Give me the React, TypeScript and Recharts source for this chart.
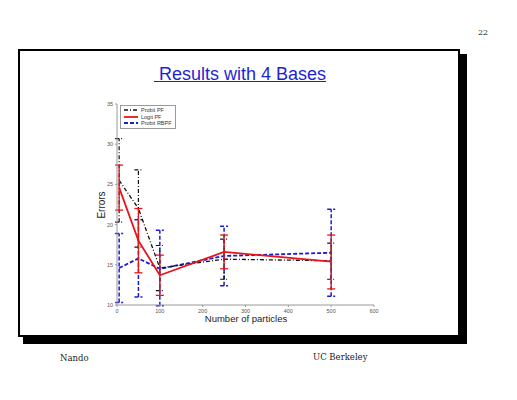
import React from 'react';
import { LineChart, Line, XAxis, YAxis, ErrorBar } from 'recharts';

const particles = [5, 50, 100, 250, 500];

const probitPF = [25.5, 22.0, 14.6, 15.7, 15.5];
const probitLow = [20.3, 17.2, 11.8, 13.2, 13.2];
const probitHigh = [30.7, 26.8, 17.4, 18.2, 17.7];

const logitPF = [24.6, 18.0, 13.7, 16.6, 15.4];
const logitLow = [21.8, 14.0, 11.2, 14.5, 12.0];
const logitHigh = [27.4, 22.0, 16.2, 18.7, 18.7];

const rbpf = [14.6, 15.8, 14.5, 16.1, 16.5];
const rbpfLow = [10.3, 11.0, 9.9, 12.4, 11.1];
const rbpfHigh = [18.9, 20.6, 19.3, 19.8, 21.9];

const xTicks = [0, 100, 200, 300, 400, 500, 600];
const yTicks = [10, 15, 20, 25, 30, 35];

const data = particles.map((x, i) => ({
  x,
  probit: probitPF[i],
  probitErr: [probitPF[i] - probitLow[i], probitHigh[i] - probitPF[i]],
  logit: logitPF[i],
  logitErr: [logitPF[i] - logitLow[i], logitHigh[i] - logitPF[i]],
  rbpf: rbpf[i],
  rbpfErr: [rbpf[i] - rbpfLow[i], rbpfHigh[i] - rbpf[i]],
}));

const legendItems = [
  { name: 'Probit PF', color: '#111', dash: '4 2 1 2', width: 1.3 },
  { name: 'Logit PF', color: '#e3161b', dash: undefined, width: 1.8 },
  { name: 'Probit RBPF', color: '#1c1ccc', dash: '4 2', width: 1.8 },
];

function LegendBox() {
  return (
    <div style={{ position: 'absolute', left: 120, top: 105, border: '1px solid #999', background: '#fff', padding: '1px 3px', width: 48 }}>
      {legendItems.map(it => (
        <div key={it.name} style={{ display: 'flex', alignItems: 'center', height: 6.5 }}>
          <svg width={14} height={6}>
            <line x1={0} y1={3} x2={14} y2={3} stroke={it.color} strokeWidth={it.width} strokeDasharray={it.dash} />
          </svg>
          <span style={{ fontSize: 5.5, color: '#333', marginLeft: 3, fontFamily: 'Liberation Sans, Arial, sans-serif', lineHeight: '6px', whiteSpace: 'nowrap' }}>{it.name}</span>
        </div>
      ))}
    </div>
  );
}

const tickStyle = { fontSize: 5.5, fill: '#555', fontFamily: 'Liberation Sans, Arial, sans-serif' };

export default function App() {
  return (
    <div style={{ position: 'absolute', left: 0, top: 0, width: 517, height: 400, background: '#fff', overflow: 'hidden' }}>
      <div style={{ position: 'absolute', left: 478, top: 28, fontFamily: 'DejaVu Serif, serif', fontSize: 8, color: '#222' }}>22</div>
      {/* slide frame with shadow */}
      <div style={{ position: 'absolute', left: 23, top: 54, width: 444, height: 290, background: '#000' }} />
      <div style={{ position: 'absolute', left: 18, top: 49, width: 438, height: 284, background: '#fff', border: '2px solid #000' }} />
      <div style={{ position: 'absolute', left: 0, width: 480, top: 64, textAlign: 'center', fontFamily: 'Liberation Sans, Arial, sans-serif', fontSize: 18, color: '#1f1fd6', textDecoration: 'underline', textDecorationThickness: 1 }}>
        {'\u00a0Results with 4 Bases'}
      </div>
      <div style={{ position: 'absolute', left: 101, top: 205, transform: 'translate(-50%,-50%) rotate(-90deg)', fontFamily: 'Liberation Sans, Arial, sans-serif', fontSize: 10, color: '#222' }}>Errors</div>
      <div style={{ position: 'absolute', left: 246, top: 318, transform: 'translate(-50%,-50%)', fontFamily: 'Liberation Sans, Arial, sans-serif', fontSize: 9.5, color: '#222', whiteSpace: 'nowrap' }}>Number of particles</div>
      <div style={{ position: 'absolute', left: 60, top: 353, fontFamily: 'DejaVu Serif, serif', fontSize: 8.5, color: '#222' }}>Nando</div>
      <div style={{ position: 'absolute', left: 313, top: 352, fontFamily: 'DejaVu Serif, serif', fontSize: 8.5, color: '#222' }}>UC Berkeley</div>
      <div style={{ position: 'absolute', left: 0, top: 0 }}>
        <LineChart width={517} height={400} data={data} margin={{ top: 104, left: 97, right: 143, bottom: 85 }}>
          <XAxis
            type="number"
            dataKey="x"
            domain={[0, 600]}
            ticks={xTicks}
            tick={tickStyle}
            tickSize={2}
            height={10}
            stroke="#999"
            allowDataOverflow
          />
          <YAxis
            type="number"
            domain={[10, 35]}
            ticks={yTicks}
            tick={tickStyle}
            tickSize={2}
            width={20}
            stroke="#999"
            allowDataOverflow
          />
          <Line dataKey="rbpf" name="Probit RBPF" stroke="#1c1ccc" strokeWidth={1.8} strokeDasharray="4 2" dot={false} isAnimationActive={false}>
            <ErrorBar dataKey="rbpfErr" stroke="#1c1ccc" strokeWidth={1.5} width={4} strokeDasharray="4 2" />
          </Line>
          <Line dataKey="probit" name="Probit PF" stroke="#111" strokeWidth={1.3} strokeDasharray="4 2 1 2" dot={false} isAnimationActive={false}>
            <ErrorBar dataKey="probitErr" stroke="#111" strokeWidth={1.2} width={4} strokeDasharray="4 2 1 2" />
          </Line>
          <Line dataKey="logit" name="Logit PF" stroke="#e3161b" strokeWidth={1.8} dot={false} isAnimationActive={false}>
            <ErrorBar dataKey="logitErr" stroke="#e3161b" strokeWidth={1.3} width={4} />
          </Line>
        </LineChart>
      </div>
      <LegendBox />
    </div>
  );
}
